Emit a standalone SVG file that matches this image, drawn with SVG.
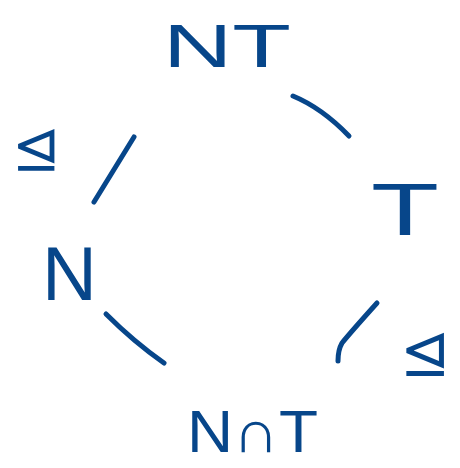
<svg xmlns="http://www.w3.org/2000/svg" width="460" height="468" viewBox="0 0 460 468">
<style>
.lbl{font-family:"Liberation Sans","DejaVu Sans",sans-serif;fill:#07468a}
.rel{font-family:"DejaVu Sans",sans-serif;fill:#07468a}
.edge{fill:none;stroke:#07468a;stroke-width:5;stroke-linecap:round;stroke-linejoin:round}
</style>
<rect width="460" height="468" fill="#fff"/>
<g id="connectors">
<path class="edge" d="M293,96 Q322,108 349,136"/>
<path class="edge" d="M134,137 L94,202"/>
<path class="edge" d="M106,314 Q134,342 164,363"/>
<path class="edge" d="M377,303 Q350,333 342,343 Q338,350 338,361"/>
</g>
<g id="node-NT"><text class="lbl" x="163" y="67" font-size="62" textLength="128" lengthAdjust="spacingAndGlyphs">NT</text></g>
<g id="node-T"><text class="lbl" x="371" y="235" font-size="74" textLength="68" lengthAdjust="spacingAndGlyphs">T</text></g>
<g id="node-N"><text class="lbl" x="42" y="300" font-size="76">N</text></g>
<g id="node-NcapT"><text class="lbl" x="187" y="452" font-size="60" textLength="131" lengthAdjust="spacingAndGlyphs">N∩T</text></g>
<g id="rel-left"><text class="rel" x="12" y="168" font-size="58">⊴</text></g>
<g id="rel-right"><text class="rel" x="400" y="373" font-size="60">⊴</text></g>
</svg>
